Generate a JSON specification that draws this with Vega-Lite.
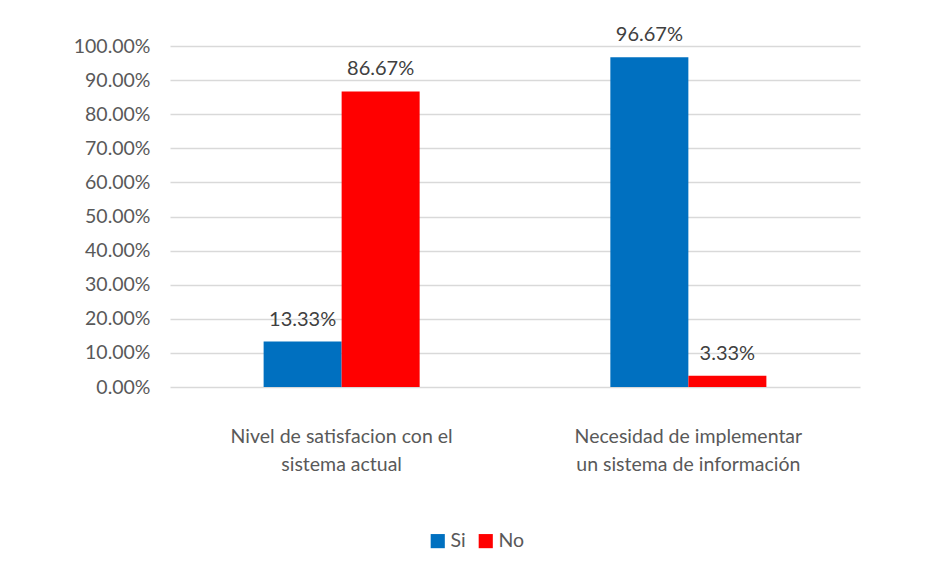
{
  "$schema": "https://vega.github.io/schema/vega-lite/v6.json",
  "width": 690,
  "height": 341,
  "autosize": {"type": "none"},
  "padding": {"left": 170, "top": 46, "right": 68, "bottom": 188},
  "background": "white",
  "config": {"view": {"stroke": null}, "font": "Lato"},
  "data": {
    "values": [
      {"categoria": "Nivel de satisfacion con el sistema actual", "respuesta": "Si", "valor": 0.1333},
      {"categoria": "Nivel de satisfacion con el sistema actual", "respuesta": "No", "valor": 0.8667},
      {"categoria": "Necesidad de implementar un sistema de información", "respuesta": "Si", "valor": 0.9667},
      {"categoria": "Necesidad de implementar un sistema de información", "respuesta": "No", "valor": 0.0333}
    ]
  },
  "encoding": {
    "x": {
      "field": "categoria",
      "type": "nominal",
      "sort": null,
      "scale": {"paddingInner": 0.55, "paddingOuter": 0.27},
      "axis": {
        "title": null,
        "labelAngle": 0,
        "domain": false,
        "ticks": false,
        "labelFontSize": 19.5,
        "labelColor": "#595959",
        "labelPadding": 40,
        "labelLineHeight": 28,
        "labelLimit": 0,
        "labelExpr": "datum.value == 'Nivel de satisfacion con el sistema actual' ? ['Nivel de satisfacion con el', 'sistema actual'] : ['Necesidad de implementar', 'un sistema de información']"
      }
    },
    "xOffset": {"field": "respuesta", "type": "nominal", "sort": ["Si", "No"]},
    "y": {
      "field": "valor",
      "type": "quantitative",
      "scale": {"domain": [0, 1]},
      "axis": {
        "title": null,
        "format": ".2%",
        "values": [0, 0.1, 0.2, 0.3, 0.4, 0.5, 0.6, 0.7, 0.8, 0.9, 1],
        "domain": false,
        "ticks": false,
        "gridColor": "#D9D9D9",
        "gridWidth": 1.5,
        "labelFontSize": 19.5,
        "labelColor": "#595959",
        "labelPadding": 20
      }
    }
  },
  "layer": [
    {
      "mark": {"type": "bar"},
      "encoding": {
        "color": {
          "field": "respuesta",
          "type": "nominal",
          "scale": {"domain": ["Si", "No"], "range": ["#0070C0", "#FF0000"]},
          "legend": {
            "title": null,
            "orient": "none",
            "legendX": 258,
            "legendY": 485,
            "direction": "horizontal",
            "symbolType": "square",
            "symbolSize": 200,
            "labelFontSize": 19.5,
            "labelColor": "#595959",
            "columnPadding": 10,
            "labelOffset": 3
          }
        }
      }
    },
    {
      "mark": {"type": "text", "dy": -12, "baseline": "bottom", "fontSize": 20, "color": "#404040"},
      "encoding": {"text": {"field": "valor", "type": "quantitative", "format": ".2%"}}
    }
  ]
}
